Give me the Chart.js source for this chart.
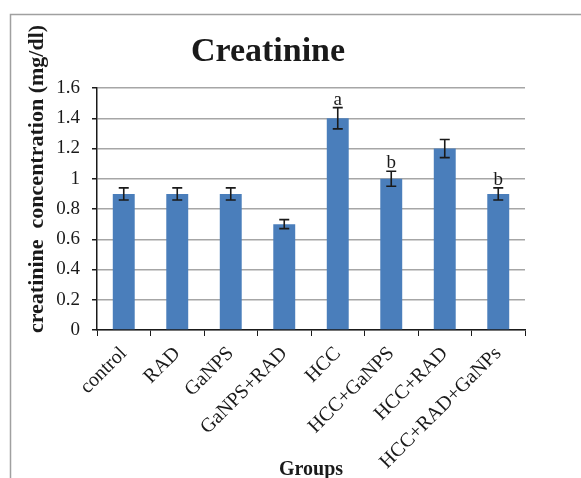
<!DOCTYPE html>
<html><head><meta charset="utf-8">
<script src="https://cdn.jsdelivr.net/npm/chart.js@4/dist/chart.umd.min.js"></script>
<style>html,body{margin:0;padding:0;background:#fff;overflow:hidden}#wrap{position:relative;width:581px;height:478px}</style>
</head><body><div id="wrap"><canvas id="c" width="581" height="478"></canvas></div>
<script>
const categories = ["control","RAD","GaNPS","GaNPS+RAD","HCC","HCC+GaNPS","HCC+RAD","HCC+RAD+GaNPs"];
const values = [0.9,0.9,0.9,0.7,1.4,1.0,1.2,0.9];
const errors = [0.04,0.04,0.04,0.03,0.07,0.05,0.06,0.04];
const letters = ["","","","","a","b","","b"];
const titleText = "Creatinine";
const yTitle = "creatinine  concentration (mg/dl)";
const xTitle = "Groups";
const serif = "'Liberation Serif','Times New Roman',serif";

const extras = {
  id:'extras',
  beforeDraw(chart){
    const ctx = chart.ctx;
    ctx.save();
    ctx.strokeStyle = '#a0a0a0'; ctx.lineWidth = 1.5;
    ctx.beginPath(); ctx.moveTo(10.5, 480); ctx.lineTo(10.5, 14.5); ctx.lineTo(590, 14.5); ctx.stroke();
    ctx.fillStyle = '#1a1a1a';
    ctx.font = "bold 34px " + serif;
    ctx.textAlign = 'center'; ctx.textBaseline = 'middle';
    ctx.fillText(titleText, 268, 52);
    ctx.restore();
  },
  afterDatasetsDraw(chart){
    const ctx = chart.ctx, y = chart.scales.y, meta = chart.getDatasetMeta(0);
    ctx.save();
    ctx.strokeStyle = '#1a1a1a'; ctx.lineWidth = 1.6;
    meta.data.forEach((bar,i)=>{
      const x = bar.x, yt = y.getPixelForValue(values[i]+errors[i]), yb = y.getPixelForValue(values[i]-errors[i]);
      ctx.beginPath();
      ctx.moveTo(x, yt); ctx.lineTo(x, yb);
      ctx.moveTo(x-5, yt); ctx.lineTo(x+5, yt);
      ctx.moveTo(x-5, yb); ctx.lineTo(x+5, yb);
      ctx.stroke();
      if (letters[i]) {
        ctx.fillStyle = '#1a1a1a';
        ctx.font = "19px " + serif;
        ctx.textAlign = 'center'; ctx.textBaseline = 'alphabetic';
        ctx.fillText(letters[i], x, yt - 3);
      }
    });
    ctx.translate(37, 179);
    ctx.rotate(-Math.PI/2);
    ctx.fillStyle = '#1a1a1a';
    ctx.font = "bold 22px " + serif;
    ctx.textAlign = 'center'; ctx.textBaseline = 'middle';
    ctx.fillText(yTitle, 0, 0);
    ctx.restore();
  }
};

new Chart(document.getElementById('c'), {
  type:'bar',
  data:{ labels: categories, datasets:[{ data: values, backgroundColor:'#4a7ebb', borderWidth:0, barPercentage:0.41, categoryPercentage:1 }]},
  options:{
    responsive:false, animation:false,
    layout:{ padding:{ left:0, right:56, top:88, bottom:0 } },
    plugins:{ legend:{display:false}, tooltip:{enabled:false}, title:{display:false} },
    scales:{
      y:{ min:0, max:1.6,
        ticks:{ stepSize:0.2, color:'#1a1a1a', font:{ family:serif, size:19 }, padding:12,
          callback:v=>Number(v.toFixed(1)).toString() },
        grid:{ color:'#a6a6a6', lineWidth:1.5, tickColor:'#1a1a1a', tickLength:5, drawTicks:true },
        border:{ color:'#1a1a1a', width:1.5 },
        afterFit:s=>{ s.width = 97; }
      },
      x:{
        ticks:{ color:'#1a1a1a', font:{ family:serif, size:20 }, minRotation:45, maxRotation:45, autoSkip:false, padding:6 },
        grid:{ drawOnChartArea:false, tickColor:'#1a1a1a', tickLength:6, offset:true },
        border:{ color:'#1a1a1a', width:1.5 },
        title:{ display:true, text:xTitle, color:'#1a1a1a', font:{ family:serif, size:20, weight:'bold' }, padding:{top:0,bottom:-4} },
        afterFit:s=>{ s.height = 148; }
      }
    }
  },
  plugins:[extras]
});
</script></body></html>
